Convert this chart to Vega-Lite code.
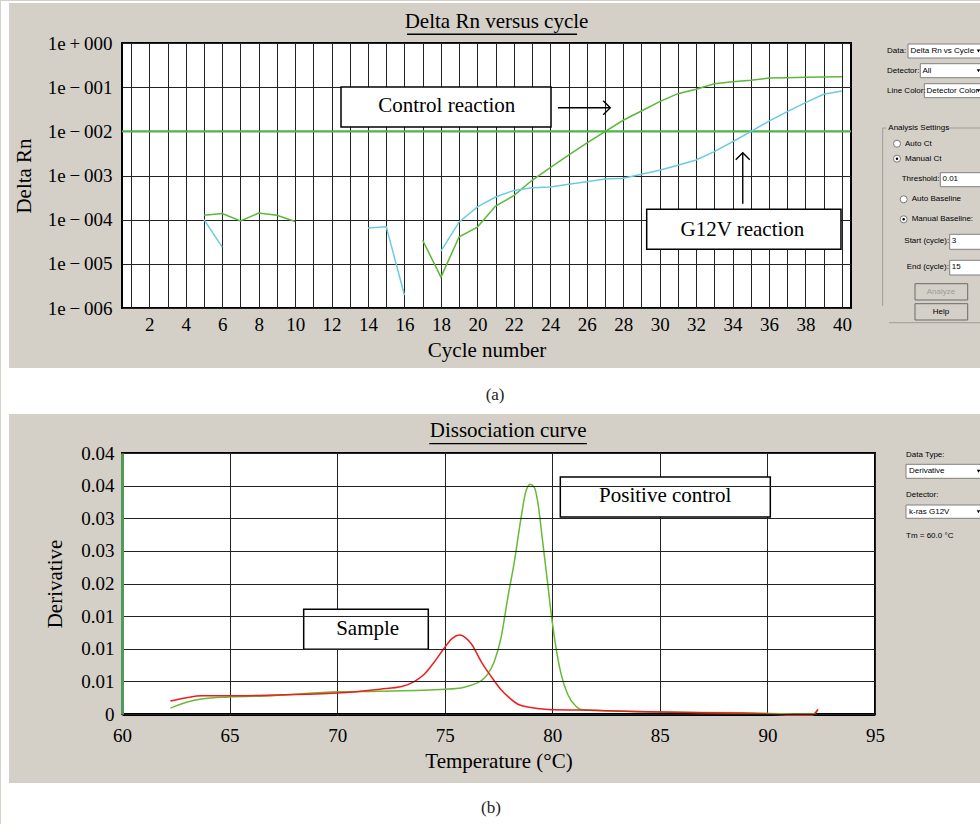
{
  "$schema": "https://vega.github.io/schema/vega-lite/v6.json",
  "background": "#d4d0c8",
  "padding": 0,
  "columns": 2,
  "bounds": "flush",
  "align": "each",
  "spacing": {"row": 145, "column": 6},
  "resolve": {"scale": {"color": "independent"}},
  "config": {
    "font": "Liberation Serif",
    "axis": {"labelColor": "#000", "titleColor": "#000", "titleFontWeight": "normal"}
  },
  "concat": [
    {
      "width": 729,
      "height": 265,
      "view": {"fill": "white", "stroke": "#000", "strokeWidth": 2},
      "encoding": {
        "x": {
          "field": "x", "type": "quantitative", "title": "Cycle number",
          "scale": {"domain": [0.5, 40.5], "nice": false, "zero": false},
          "axis": {
            "values": [1,2,3,4,5,6,7,8,9,10,11,12,13,14,15,16,17,18,19,20,21,22,23,24,25,26,27,28,29,30,31,32,33,34,35,36,37,38,39,40],
            "labelExpr": "datum.value % 2 == 0 ? '' + datum.value : ''",
            "labelOverlap": false, "labelFlush": false, "labelFontSize": 19, "labelPadding": 7,
            "ticks": false, "tickSize": 0, "domain": false,
            "grid": true, "gridColor": "#222", "gridWidth": 1, "gridOpacity": 1,
            "titleFontSize": 21, "titlePadding": 5, "zindex": 0
          }
        },
        "y": {
          "field": "y", "type": "quantitative", "title": "Delta Rn",
          "scale": {"type": "log", "domain": [0.000001, 1], "nice": false},
          "axis": {
            "values": [0.000001, 0.00001, 0.0001, 0.001, 0.01, 0.1, 1],
            "labelExpr": "'1e\u2009' + (datum.value >= 0.999 ? '+' : '\u2212') + '\u200900' + abs(round(log(datum.value) / LN10))",
            "labelOverlap": false, "labelFontSize": 19, "labelPadding": 10,
            "ticks": false, "tickSize": 0, "domain": false,
            "grid": true, "gridColor": "#222", "gridWidth": 1, "gridOpacity": 1,
            "titleFontSize": 21, "titlePadding": 13, "zindex": 0
          }
        }
      },
      "layer": [
        {
          "data": {"values": [
            {"x": -6.139, "x2": 48, "y": 8.93, "y2": 8.05},
            {"x": -6.139, "x2": -5.7, "y": 8.93, "y2": 3.98e-9},
            {"x": -6.139, "x2": 48, "y": 4.385e-8, "y2": 3.98e-9}
          ]},
          "mark": {"type": "rect", "fill": "white", "stroke": null},
          "encoding": {"x2": {"field": "x2"}, "y2": {"field": "y2"}}
        },
        {
          "data": {"values": [{"x": 0.5, "x2": 40.5, "y": 0.01}]},
          "mark": {"type": "rule", "color": "#4fb34a", "strokeWidth": 2.2},
          "encoding": {"x2": {"field": "x2"}}
        },
        {
          "data": {"values": [
            {"series": "Control", "seg": "c1", "x": 5, "y": 0.000126},
            {"series": "Control", "seg": "c1", "x": 6, "y": 0.000138},
            {"series": "Control", "seg": "c1", "x": 7, "y": 0.000093},
            {"series": "Control", "seg": "c1", "x": 8, "y": 0.000141},
            {"series": "Control", "seg": "c1", "x": 9, "y": 0.000126},
            {"series": "Control", "seg": "c1", "x": 10, "y": 0.000091},
            {"series": "Control", "seg": "c2", "x": 17, "y": 0.000034},
            {"series": "Control", "seg": "c2", "x": 18, "y": 0.000005},
            {"series": "Control", "seg": "c2", "x": 19, "y": 0.000041},
            {"series": "Control", "seg": "c2", "x": 20, "y": 0.000068},
            {"series": "Control", "seg": "c2", "x": 21, "y": 0.000204},
            {"series": "Control", "seg": "c2", "x": 22, "y": 0.00035},
            {"series": "Control", "seg": "c2", "x": 23, "y": 0.00078},
            {"series": "Control", "seg": "c2", "x": 24, "y": 0.0015},
            {"series": "Control", "seg": "c2", "x": 25, "y": 0.0029},
            {"series": "Control", "seg": "c2", "x": 26, "y": 0.0054},
            {"series": "Control", "seg": "c2", "x": 27, "y": 0.0098},
            {"series": "Control", "seg": "c2", "x": 28, "y": 0.0178},
            {"series": "Control", "seg": "c2", "x": 29, "y": 0.0288},
            {"series": "Control", "seg": "c2", "x": 30, "y": 0.047},
            {"series": "Control", "seg": "c2", "x": 31, "y": 0.0713},
            {"series": "Control", "seg": "c2", "x": 32, "y": 0.0894},
            {"series": "Control", "seg": "c2", "x": 33, "y": 0.12},
            {"series": "Control", "seg": "c2", "x": 34, "y": 0.133},
            {"series": "Control", "seg": "c2", "x": 35, "y": 0.143},
            {"series": "Control", "seg": "c2", "x": 36, "y": 0.161},
            {"series": "Control", "seg": "c2", "x": 37, "y": 0.164},
            {"series": "Control", "seg": "c2", "x": 38, "y": 0.168},
            {"series": "Control", "seg": "c2", "x": 39, "y": 0.17},
            {"series": "Control", "seg": "c2", "x": 40, "y": 0.172},
            {"series": "G12V", "seg": "g1", "x": 5, "y": 0.0001},
            {"series": "G12V", "seg": "g1", "x": 6, "y": 0.000024},
            {"series": "G12V", "seg": "g2", "x": 14, "y": 0.000065},
            {"series": "G12V", "seg": "g2", "x": 15, "y": 0.000069},
            {"series": "G12V", "seg": "g2", "x": 16, "y": 0.00000195},
            {"series": "G12V", "seg": "g3", "x": 18, "y": 0.0000195},
            {"series": "G12V", "seg": "g3", "x": 19, "y": 0.000089},
            {"series": "G12V", "seg": "g3", "x": 20, "y": 0.000195},
            {"series": "G12V", "seg": "g3", "x": 21, "y": 0.000325},
            {"series": "G12V", "seg": "g3", "x": 22, "y": 0.00046},
            {"series": "G12V", "seg": "g3", "x": 23, "y": 0.00053},
            {"series": "G12V", "seg": "g3", "x": 24, "y": 0.00055},
            {"series": "G12V", "seg": "g3", "x": 25, "y": 0.00063},
            {"series": "G12V", "seg": "g3", "x": 26, "y": 0.00072},
            {"series": "G12V", "seg": "g3", "x": 27, "y": 0.00083},
            {"series": "G12V", "seg": "g3", "x": 28, "y": 0.00087},
            {"series": "G12V", "seg": "g3", "x": 29, "y": 0.00107},
            {"series": "G12V", "seg": "g3", "x": 30, "y": 0.00131},
            {"series": "G12V", "seg": "g3", "x": 31, "y": 0.0017},
            {"series": "G12V", "seg": "g3", "x": 32, "y": 0.00224},
            {"series": "G12V", "seg": "g3", "x": 33, "y": 0.00346},
            {"series": "G12V", "seg": "g3", "x": 34, "y": 0.0058},
            {"series": "G12V", "seg": "g3", "x": 35, "y": 0.0098},
            {"series": "G12V", "seg": "g3", "x": 36, "y": 0.0171},
            {"series": "G12V", "seg": "g3", "x": 37, "y": 0.0279},
            {"series": "G12V", "seg": "g3", "x": 38, "y": 0.0446},
            {"series": "G12V", "seg": "g3", "x": 39, "y": 0.0688},
            {"series": "G12V", "seg": "g3", "x": 40, "y": 0.0819}
          ]},
          "mark": {"type": "line", "strokeWidth": 1.5},
          "encoding": {
            "color": {"field": "series", "type": "nominal", "legend": null,
              "scale": {"domain": ["Control", "G12V"], "range": ["#5cb83a", "#6ccbe0"]}},
            "detail": {"field": "seg"}
          }
        },
        {
          "data": {"values": [
            {"x": 12.517, "x2": 24.039, "y": 0.1009, "y2": 0.01253},
            {"x": 29.29, "x2": 39.95, "y": 0.0001715, "y2": 0.0000213}
          ]},
          "mark": {"type": "rect", "fill": "white", "stroke": "#000", "strokeWidth": 1.5},
          "encoding": {"x2": {"field": "x2"}, "y2": {"field": "y2"}}
        },
        {
          "data": {"values": [
            {"x": 18.32, "y": 0.0274, "label": "Control reaction"},
            {"x": 34.54, "y": 0.0000427, "label": "G12V reaction"}
          ]},
          "mark": {"type": "text", "fontSize": 21, "align": "center", "baseline": "alphabetic", "color": "#000"},
          "encoding": {"text": {"field": "label"}}
        },
        {
          "data": {"values": [
            {"x": 24.42, "x2": 27.29, "y": 0.0343, "y2": 0.0343},
            {"x": 34.56, "x2": 34.56, "y": 0.00023, "y2": 0.00328},
            {"x": 16.14, "x2": 25.47, "y": 1.574, "y2": 1.574}
          ]},
          "mark": {"type": "rule", "color": "#000", "strokeWidth": 1.4},
          "encoding": {"x2": {"field": "x2"}, "y2": {"field": "y2"}}
        },
        {
          "data": {"values": [{"x": 27.29, "y": 0.0343}]},
          "mark": {"type": "point", "shape": "M-1,-1L0,0L-1,1", "filled": false, "size": 196, "color": "#000", "strokeWidth": 1.4, "opacity": 1}
        },
        {
          "data": {"values": [{"x": 34.56, "y": 0.00328}]},
          "mark": {"type": "point", "shape": "M-1,1L0,0L1,1", "filled": false, "size": 196, "color": "#000", "strokeWidth": 1.4, "opacity": 1}
        },
        {
          "data": {"values": [{"x": 21.05, "y": 2.22, "label": "Delta Rn versus cycle"}]},
          "mark": {"type": "text", "fontSize": 21, "align": "center", "baseline": "alphabetic", "color": "#000"},
          "encoding": {"text": {"field": "label"}}
        },
        {
          "data": {"values": [{"x": 20.97, "y": 8.26e-9, "label": "(a)"}]},
          "mark": {"type": "text", "fontSize": 17, "align": "center", "baseline": "alphabetic", "color": "#222"},
          "encoding": {"text": {"field": "label"}}
        }
      ]
    },
    {
      "width": 100,
      "height": 265,
      "view": {"stroke": null, "fill": null},
      "encoding": {
        "x": {"field": "x", "type": "quantitative", "axis": null, "scale": {"domain": [0, 100], "nice": false, "zero": false}},
        "y": {"field": "y", "type": "quantitative", "axis": null, "scale": {"domain": [0, 265], "reverse": true, "nice": false, "zero": false}}
      },
      "layer": [
        {
          "data": {"values": [
            {"x": 27, "x2": 115, "y": 1, "y2": 15},
            {"x": 39.3, "x2": 115, "y": 20.7, "y2": 34.7},
            {"x": 43.3, "x2": 115, "y": 40.7, "y2": 54.7},
            {"x": 59.3, "x2": 115, "y": 129.7, "y2": 143.7},
            {"x": 68.7, "x2": 115, "y": 191.3, "y2": 206.3},
            {"x": 68.7, "x2": 115, "y": 217.3, "y2": 232}
          ]},
          "mark": {"type": "rect", "fill": "white", "stroke": "#808080", "strokeWidth": 1},
          "encoding": {"x2": {"field": "x2"}, "y2": {"field": "y2"}}
        },
        {
          "data": {"values": [
            {"x": 34, "x2": 86.7, "y": 240.7, "y2": 257},
            {"x": 34, "x2": 86.7, "y": 260.7, "y2": 277}
          ]},
          "mark": {"type": "rect", "fill": "#d4d0c8", "stroke": "#6a6a6a", "strokeWidth": 1},
          "encoding": {"x2": {"field": "x2"}, "y2": {"field": "y2"}}
        },
        {
          "data": {"values": [
            {"x": 1.7, "x2": 1.7, "y": 85, "y2": 263},
            {"x": 1.7, "x2": 5, "y": 85, "y2": 85},
            {"x": 65, "x2": 115, "y": 85, "y2": 85},
            {"x": 8, "x2": 100, "y": 279.7, "y2": 279.7}
          ]},
          "mark": {"type": "rule", "color": "#a09c94", "strokeWidth": 1},
          "encoding": {"x2": {"field": "x2"}, "y2": {"field": "y2"}}
        },
        {
          "data": {"values": [
            {"x": 16, "y": 100.7}, {"x": 16, "y": 115.7}, {"x": 22.7, "y": 156.3}, {"x": 22.7, "y": 176.3}
          ]},
          "mark": {"type": "point", "shape": "circle", "size": 50, "filled": true, "fill": "white", "stroke": "#7a7a7a", "strokeWidth": 1, "opacity": 1}
        },
        {
          "data": {"values": [{"x": 16, "y": 115.7}, {"x": 22.7, "y": 176.3}]},
          "mark": {"type": "point", "shape": "circle", "size": 6, "filled": true, "color": "#000", "opacity": 1}
        },
        {
          "data": {"values": [{"x": 97.5, "y": 8}, {"x": 97.5, "y": 27.7}, {"x": 97.5, "y": 47.7}]},
          "mark": {"type": "point", "shape": "triangle-down", "size": 12, "filled": true, "color": "#000", "opacity": 1}
        },
        {
          "data": {"values": [
            {"x": 6, "y": 8, "label": "Data:"},
            {"x": 6, "y": 27.7, "label": "Detector:"},
            {"x": 6, "y": 47.7, "label": "Line Color:"},
            {"x": 29.5, "y": 8, "label": "Delta Rn vs Cycle"},
            {"x": 41.5, "y": 27.7, "label": "All"},
            {"x": 45.5, "y": 47.7, "label": "Detector Color"},
            {"x": 7.3, "y": 85, "label": "Analysis Settings"},
            {"x": 24, "y": 100.7, "label": "Auto Ct"},
            {"x": 24, "y": 115.7, "label": "Manual Ct"},
            {"x": 20.7, "y": 136.3, "label": "Threshold:"},
            {"x": 61.5, "y": 136.3, "label": "0.01"},
            {"x": 30.7, "y": 156.3, "label": "Auto Baseline"},
            {"x": 30.7, "y": 176.3, "label": "Manual Baseline:"},
            {"x": 23.3, "y": 198, "label": "Start (cycle):"},
            {"x": 70.7, "y": 198, "label": "3"},
            {"x": 25.7, "y": 224, "label": "End (cycle):"},
            {"x": 70.7, "y": 224, "label": "15"}
          ]},
          "mark": {"type": "text", "font": "Liberation Sans Narrow, Liberation Sans", "fontSize": 8, "align": "left", "baseline": "middle", "color": "#000"},
          "encoding": {"text": {"field": "label"}}
        },
        {
          "data": {"values": [{"x": 60, "y": 249, "label": "Analyze"}]},
          "mark": {"type": "text", "font": "Liberation Sans Narrow, Liberation Sans", "fontSize": 8, "align": "center", "baseline": "middle", "color": "#9a9a9a"},
          "encoding": {"text": {"field": "label"}}
        },
        {
          "data": {"values": [{"x": 60, "y": 269, "label": "Help"}]},
          "mark": {"type": "text", "font": "Liberation Sans Narrow, Liberation Sans", "fontSize": 8, "align": "center", "baseline": "middle", "color": "#000"},
          "encoding": {"text": {"field": "label"}}
        }
      ]
    },
    {
      "width": 753,
      "height": 261,
      "view": {"fill": "white", "stroke": "#000", "strokeWidth": 2},
      "encoding": {
        "x": {
          "field": "x", "type": "quantitative", "title": "Temperature (°C)",
          "scale": {"domain": [60, 95], "nice": false, "zero": false},
          "axis": {
            "values": [60, 65, 70, 75, 80, 85, 90, 95],
            "labelOverlap": false, "labelFlush": false, "labelFontSize": 19, "labelPadding": 12,
            "ticks": false, "tickSize": 0, "domain": true, "domainColor": "#000", "domainWidth": 3,
            "grid": true, "gridColor": "#222", "gridWidth": 1, "gridOpacity": 1,
            "titleFontSize": 21, "titlePadding": 5, "zindex": 0
          }
        },
        "y": {
          "field": "y", "type": "quantitative", "title": "Derivative",
          "scale": {"domain": [0, 0.04], "nice": false, "zero": false},
          "axis": {
            "values": [0, 0.005, 0.01, 0.015, 0.02, 0.025, 0.03, 0.035, 0.04],
            "labelExpr": "datum.value == 0 ? '0' : format(datum.value, '.2f')",
            "labelOverlap": false, "labelFontSize": 19, "labelPadding": 8,
            "ticks": false, "tickSize": 0, "domain": true, "domainColor": "#4f9a57", "domainWidth": 3,
            "grid": true, "gridColor": "#222", "gridWidth": 1, "gridOpacity": 1,
            "titleFontSize": 21, "titlePadding": 15, "zindex": 1
          }
        }
      },
      "layer": [
        {
          "data": {"values": [
            {"x": 54.376, "x2": 54.748, "y": 0.04598, "y2": -0.01793},
            {"x": 54.376, "x2": 100, "y": -0.01057, "y2": -0.01793}
          ]},
          "mark": {"type": "rect", "fill": "white", "stroke": null},
          "encoding": {"x2": {"field": "x2"}, "y2": {"field": "y2"}}
        },
        {
          "data": {"values": [
            {"series": "Positive", "x": 62.25, "y": 0.0009},
            {"series": "Positive", "x": 63.0, "y": 0.0018},
            {"series": "Positive", "x": 63.7, "y": 0.0023},
            {"series": "Positive", "x": 65.0, "y": 0.0026},
            {"series": "Positive", "x": 67.0, "y": 0.0028},
            {"series": "Positive", "x": 70.0, "y": 0.0034},
            {"series": "Positive", "x": 72.0, "y": 0.0035},
            {"series": "Positive", "x": 75.0, "y": 0.0038},
            {"series": "Positive", "x": 75.76, "y": 0.004},
            {"series": "Positive", "x": 76.22, "y": 0.0044},
            {"series": "Positive", "x": 76.69, "y": 0.0051},
            {"series": "Positive", "x": 77.0, "y": 0.0061},
            {"series": "Positive", "x": 77.31, "y": 0.0081},
            {"series": "Positive", "x": 77.62, "y": 0.0117},
            {"series": "Positive", "x": 77.93, "y": 0.0178},
            {"series": "Positive", "x": 78.24, "y": 0.0234},
            {"series": "Positive", "x": 78.55, "y": 0.0301},
            {"series": "Positive", "x": 78.78, "y": 0.0342},
            {"series": "Positive", "x": 78.98, "y": 0.0352},
            {"series": "Positive", "x": 79.17, "y": 0.0347},
            {"series": "Positive", "x": 79.32, "y": 0.0326},
            {"series": "Positive", "x": 79.55, "y": 0.0265},
            {"series": "Positive", "x": 79.79, "y": 0.0199},
            {"series": "Positive", "x": 79.97, "y": 0.0148},
            {"series": "Positive", "x": 80.17, "y": 0.0102},
            {"series": "Positive", "x": 80.41, "y": 0.0061},
            {"series": "Positive", "x": 80.72, "y": 0.003},
            {"series": "Positive", "x": 81.1, "y": 0.0012},
            {"series": "Positive", "x": 81.33, "y": 0.0007},
            {"series": "Positive", "x": 85.0, "y": 0.0003},
            {"series": "Positive", "x": 88.8, "y": 0.0002},
            {"series": "Positive", "x": 90.0, "y": 0.0001},
            {"series": "Positive", "x": 92.1, "y": 0.0},
            {"series": "Positive", "x": 92.35, "y": 0.0007},
            {"series": "Sample", "x": 62.25, "y": 0.002},
            {"series": "Sample", "x": 63.0, "y": 0.0025},
            {"series": "Sample", "x": 63.7, "y": 0.0028},
            {"series": "Sample", "x": 65.0, "y": 0.0028},
            {"series": "Sample", "x": 67.0, "y": 0.0029},
            {"series": "Sample", "x": 70.0, "y": 0.0032},
            {"series": "Sample", "x": 72.0, "y": 0.0038},
            {"series": "Sample", "x": 73.0, "y": 0.0042},
            {"series": "Sample", "x": 73.6, "y": 0.005},
            {"series": "Sample", "x": 74.05, "y": 0.0061},
            {"series": "Sample", "x": 74.5, "y": 0.0079},
            {"series": "Sample", "x": 75.0, "y": 0.0102},
            {"series": "Sample", "x": 75.35, "y": 0.0116},
            {"series": "Sample", "x": 75.7, "y": 0.0121},
            {"series": "Sample", "x": 76.0, "y": 0.0116},
            {"series": "Sample", "x": 76.25, "y": 0.0107},
            {"series": "Sample", "x": 76.7, "y": 0.008},
            {"series": "Sample", "x": 77.15, "y": 0.0058},
            {"series": "Sample", "x": 77.6, "y": 0.0038},
            {"series": "Sample", "x": 78.0, "y": 0.0025},
            {"series": "Sample", "x": 78.4, "y": 0.0015},
            {"series": "Sample", "x": 79.0, "y": 0.001},
            {"series": "Sample", "x": 79.8, "y": 0.0007},
            {"series": "Sample", "x": 81.3, "y": 0.0006},
            {"series": "Sample", "x": 85.0, "y": 0.0003},
            {"series": "Sample", "x": 88.8, "y": 0.0001},
            {"series": "Sample", "x": 90.0, "y": 0.0},
            {"series": "Sample", "x": 91.0, "y": -0.0002},
            {"series": "Sample", "x": 92.1, "y": -0.0002},
            {"series": "Sample", "x": 92.35, "y": 0.0007}
          ]},
          "mark": {"type": "line", "strokeWidth": 1.5, "interpolate": "monotone"},
          "encoding": {
            "color": {"field": "series", "type": "nominal", "legend": null,
              "scale": {"domain": ["Sample", "Positive"], "range": ["#ee1c1c", "#66bb33"]}}
          }
        },
        {
          "data": {"values": [
            {"x": 68.445, "x2": 74.237, "y": 0.01605, "y2": 0.00992},
            {"x": 80.373, "x2": 90.134, "y": 0.03632, "y2": 0.03019}
          ]},
          "mark": {"type": "rect", "fill": "white", "stroke": "#000", "strokeWidth": 1.5},
          "encoding": {"x2": {"field": "x2"}, "y2": {"field": "y2"}}
        },
        {
          "data": {"values": [
            {"x": 71.42, "y": 0.01206, "label": "Sample"},
            {"x": 85.25, "y": 0.03249, "label": "Positive control"}
          ]},
          "mark": {"type": "text", "fontSize": 21, "align": "center", "baseline": "alphabetic", "color": "#000"},
          "encoding": {"text": {"field": "label"}}
        },
        {
          "data": {"values": [{"x": 74.28, "x2": 81.61, "y": 0.04143, "y2": 0.04143}]},
          "mark": {"type": "rule", "color": "#000", "strokeWidth": 1.4},
          "encoding": {"x2": {"field": "x2"}, "y2": {"field": "y2"}}
        },
        {
          "data": {"values": [{"x": 77.95, "y": 0.04245, "label": "Dissociation curve"}]},
          "mark": {"type": "text", "fontSize": 21, "align": "center", "baseline": "alphabetic", "color": "#000"},
          "encoding": {"text": {"field": "label"}}
        },
        {
          "data": {"values": [{"x": 77.15, "y": -0.01517, "label": "(b)"}]},
          "mark": {"type": "text", "fontSize": 17, "align": "center", "baseline": "alphabetic", "color": "#222"},
          "encoding": {"text": {"field": "label"}}
        }
      ]
    },
    {
      "width": 100,
      "height": 261,
      "view": {"stroke": null, "fill": null},
      "encoding": {
        "x": {"field": "x", "type": "quantitative", "axis": null, "scale": {"domain": [0, 100], "nice": false, "zero": false}},
        "y": {"field": "y", "type": "quantitative", "axis": null, "scale": {"domain": [0, 261], "reverse": true, "nice": false, "zero": false}}
      },
      "layer": [
        {
          "data": {"values": [
            {"x": 25, "x2": 115, "y": 11.3, "y2": 25.3},
            {"x": 25, "x2": 115, "y": 52, "y2": 65.3}
          ]},
          "mark": {"type": "rect", "fill": "white", "stroke": "#808080", "strokeWidth": 1},
          "encoding": {"x2": {"field": "x2"}, "y2": {"field": "y2"}}
        },
        {
          "data": {"values": [{"x": 97.5, "y": 18.3}, {"x": 97.5, "y": 58.7}]},
          "mark": {"type": "point", "shape": "triangle-down", "size": 12, "filled": true, "color": "#000", "opacity": 1}
        },
        {
          "data": {"values": [
            {"x": 25, "y": 1.8, "label": "Data Type:"},
            {"x": 28, "y": 18.3, "label": "Derivative"},
            {"x": 25, "y": 42.3, "label": "Detector:"},
            {"x": 28, "y": 58.7, "label": "k-ras G12V"},
            {"x": 25, "y": 82.7, "label": "Tm = 60.0 °C"}
          ]},
          "mark": {"type": "text", "font": "Liberation Sans Narrow, Liberation Sans", "fontSize": 8, "align": "left", "baseline": "middle", "color": "#000"},
          "encoding": {"text": {"field": "label"}}
        }
      ]
    }
  ]
}
